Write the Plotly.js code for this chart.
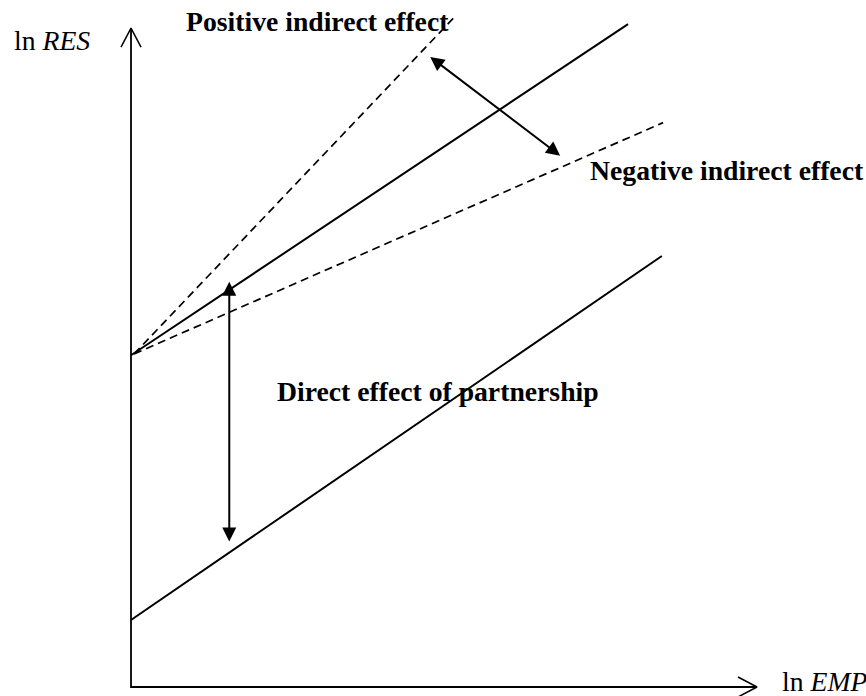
<!DOCTYPE html>
<html>
<head>
<meta charset="utf-8">
<script src="https://cdn.plot.ly/plotly-3.0.1.min.js"></script>
<style>html,body{margin:0;padding:0;background:#fff;}#chart{width:866px;height:696px;}</style>
</head>
<body>
<div id="chart"></div>
<script>
// Schematic values (axis units: ln EMP horizontal, ln RES vertical)
const axisMaxX = 10.0;
const axisMaxY = 10.03;
// Solid line, upper (with partnership)
const upperX = [0, 7.94];
const upperY = [5.05, 10.09];
// Solid line, lower (without partnership)
const lowerX = [0, 8.48];
const lowerY = [1.02, 6.56];
// Dashed line: positive indirect effect
const posX = [0.05, 5.20];
const posY = [5.07, 10.23];
// Dashed line: negative indirect effect
const negX = [0.05, 8.50];
const negY = [5.07, 8.59];
// Double arrows: [tipA, tipB]
const diagArrowX = [4.78, 6.88];
const diagArrowY = [9.59, 8.07];
const vertArrowX = [1.57, 1.57];
const vertArrowY = [6.17, 2.19];
// Label texts
const labelTexts = [
  "ln <i>RES</i>",
  "<b>Positive indirect effect</b>",
  "<b>Negative indirect effect</b>",
  "<b>Direct effect of partnership</b>",
  "ln <i>EMP</i>"
];

// ---- layout / style ----
const pxX = 62.6, pxY = 65.7; // pixels per unit
const labelPos = [
  [-1.90, 9.835],
  [0.85, 10.13],
  [7.30, 7.855],
  [2.30, 4.50],
  [10.37, 0.08]
];
const chevLen = 19, chevHalf = 10;

const solid = { color: "#000", width: 2 };
const dashed = { color: "#000", width: 1.7, dash: "8px,5px" };
const axisLine = { color: "#000", width: 1.8 };

const traces = [
  { x: upperX, y: upperY, mode: "lines", line: solid },
  { x: lowerX, y: lowerY, mode: "lines", line: solid },
  { x: posX, y: posY, mode: "lines", line: dashed },
  { x: negX, y: negY, mode: "lines", line: dashed },
  // axes
  { x: [0, 0, axisMaxX], y: [axisMaxY, 0, 0], mode: "lines", line: axisLine },
  // y-axis chevron
  { x: [-chevHalf / pxX, 0, chevHalf / pxX],
    y: [axisMaxY - chevLen / pxY, axisMaxY, axisMaxY - chevLen / pxY],
    mode: "lines", line: { color: "#000", width: 1.5 } },
  // x-axis chevron
  { x: [axisMaxX - chevLen / pxX, axisMaxX, axisMaxX - chevLen / pxX],
    y: [chevHalf / pxY, 0, -chevHalf / pxY],
    mode: "lines", line: { color: "#000", width: 1.5 } }
].map(t => Object.assign({ hoverinfo: "skip", showlegend: false, type: "scatter" }, t));

function dblArrow(xs, ys) {
  return {
    x: xs[0], y: ys[0], ax: xs[1], ay: ys[1],
    xref: "x", yref: "y", axref: "x", ayref: "y",
    text: "", showarrow: true,
    arrowside: "end+start",
    arrowhead: 2, startarrowhead: 2,
    arrowsize: 1.4, startarrowsize: 1.4,
    arrowwidth: 2, arrowcolor: "#000",
    standoff: 0, startstandoff: 0
  };
}

const annotations = [dblArrow(diagArrowX, diagArrowY), dblArrow(vertArrowX, vertArrowY)];
labelTexts.forEach((t, i) => annotations.push({
  x: labelPos[i][0], y: labelPos[i][1], xref: "x", yref: "y",
  text: t, showarrow: false, xanchor: "left", yanchor: "middle",
  font: { family: "Liberation Serif, Times New Roman, serif", size: 27.7, color: "#000" }
}));

const layout = {
  width: 866, height: 696,
  margin: { l: 0, r: 0, t: 0, b: 0 },
  paper_bgcolor: "#fff", plot_bgcolor: "#fff",
  showlegend: false,
  xaxis: { range: [-131 / pxX, 735 / pxX], visible: false, fixedrange: true },
  yaxis: { range: [-9 / pxY, 687 / pxY], visible: false, fixedrange: true },
  annotations: annotations
};

Plotly.newPlot("chart", traces, layout, { displayModeBar: false, staticPlot: true });
</script>
</body>
</html>
